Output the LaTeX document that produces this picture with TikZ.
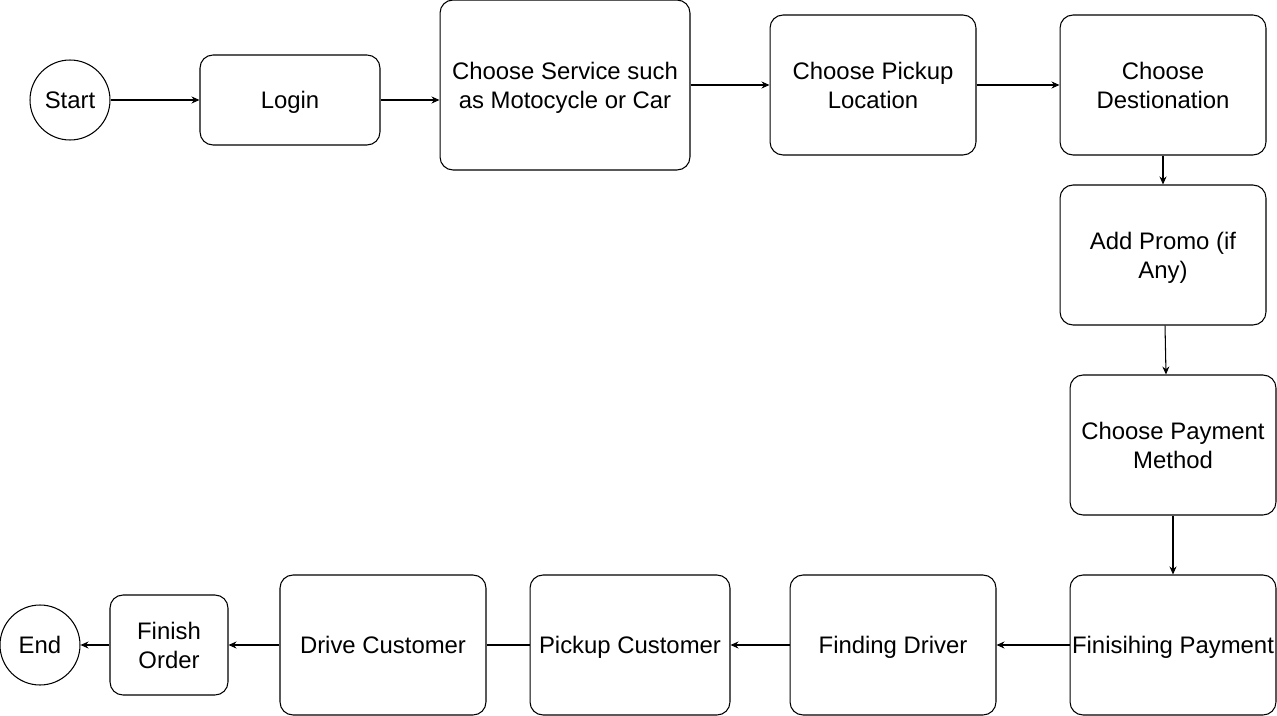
\documentclass[tikz,border=0pt]{standalone}
\usepackage{fontspec}
\setmainfont{Liberation Sans}
\usetikzlibrary{arrows.meta, positioning, calc}

\begin{document}
\begin{tikzpicture}[
    x=0.02cm, y=-0.02cm,
    box/.style={rectangle, draw=black, line width=0.6pt, rounded corners=0.26cm, align=center, inner sep=0pt, text depth=0pt, font=\fontsize{13.6}{16.6}\selectfont},
    term/.style={circle, draw=black, line width=0.6pt, minimum size=1.6cm, inner sep=0pt, text depth=0pt, font=\fontsize{13.6}{16.6}\selectfont},
    arrow/.style={line width=0.6pt, -{Stealth[length=0.16cm, width=0.14cm]}},
    link/.style={line width=0.6pt}
]
\useasboundingbox (0,0) rectangle (1277,716);
% top row
\node (start) [term] at (70,100) {Start};
\node (login) [box, minimum width=3.6cm, minimum height=1.8cm] at (290,100) {Login};
\node (service) [box, minimum width=5cm, minimum height=3.4cm] at (565,85) {Choose Service such\\as Motocycle or Car};
\node (pickup) [box, minimum width=4.12cm, minimum height=2.8cm] at (873,85) {Choose Pickup\\Location};
\node (dest) [box, minimum width=4.12cm, minimum height=2.8cm] at (1163,85) {Choose\\Destionation};
% right column
\node (promo) [box, minimum width=4.12cm, minimum height=2.8cm] at (1163,255) {Add Promo (if\\Any)};
\node (paymethod) [box, minimum width=4.12cm, minimum height=2.8cm] at (1173,445) {Choose Payment\\Method};
\node (finpay) [box, minimum width=4.12cm, minimum height=2.8cm] at (1173,645) {Finisihing Payment};
% bottom row
\node (driver) [box, minimum width=4.12cm, minimum height=2.8cm] at (893,645) {Finding Driver};
\node (pickcust) [box, minimum width=4cm, minimum height=2.8cm] at (630,645) {Pickup Customer};
\node (drive) [box, minimum width=4.12cm, minimum height=2.8cm] at (383,645) {Drive Customer};
\node (finorder) [box, minimum width=2.36cm, minimum height=2cm] at (169,645) {Finish\\Order};
\node (end) [term] at (40,645) {End};
% connectors
\draw [arrow] (start.east) -- (login.west);
\draw [arrow] (login.east) -- (login.east -| service.west);
\draw [arrow] (service.east) -- (pickup.west);
\draw [arrow] (pickup.east) -- (dest.west);
\draw [arrow] (dest.south) -- (promo.north);
\draw [arrow] ($(promo.south)+(2,0)$) -- ($(paymethod.north)+(-7,0)$);
\draw [arrow] (paymethod.south) -- (finpay.north);
\draw [arrow] (finpay.west) -- (driver.east);
\draw [arrow] (driver.west) -- (pickcust.east);
\draw [link] (pickcust.west) -- (drive.east);
\draw [arrow] (drive.west) -- (finorder.east);
\draw [arrow] (finorder.west) -- (end.east);
\end{tikzpicture}
\end{document}
